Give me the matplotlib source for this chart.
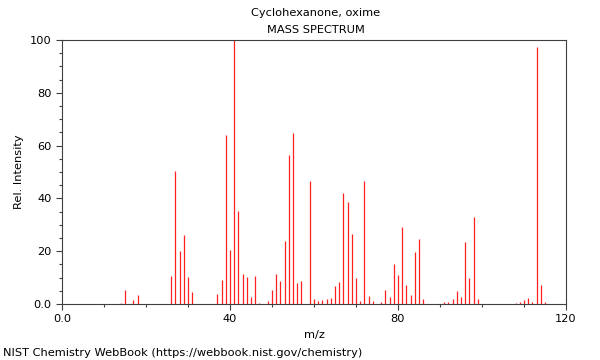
import matplotlib
matplotlib.use("Agg")
import matplotlib.pyplot as plt
from matplotlib.ticker import MultipleLocator, FuncFormatter

# peaks
mz = [14, 15, 17, 18, 26, 27, 28, 29, 30, 31, 37, 38, 39, 40, 41, 42, 43, 44, 45, 46, 47,
      49, 50, 51, 52, 53, 54, 55, 56, 57, 59, 60, 61, 62, 63, 64, 65, 66, 67, 68, 69, 70,
      71, 72, 73, 74, 76, 77, 78, 79, 80, 81, 82, 83, 84, 85, 86, 91, 92, 93, 94, 95, 96,
      97, 98, 99, 108, 109, 110, 111, 112, 113, 114, 115]
intensity = [0.5, 5.3, 1.5, 3.4, 10.7, 50.4, 20.2, 26.1, 10.2, 4.7, 3.7, 9.1, 64.0, 20.5,
             100.0, 35.2, 11.2, 10.1, 2.5, 10.6, 0.5, 1.3, 5.3, 11.2, 8.7, 23.9, 56.4, 64.6,
             8.1, 8.7, 46.7, 1.9, 1.1, 1.4, 2.0, 2.3, 6.8, 8.5, 41.9, 38.8, 26.5, 9.7, 1.1,
             46.6, 3.0, 1.3, 0.8, 5.3, 2.7, 15.2, 11.0, 29.3, 7.2, 3.4, 19.8, 24.6, 1.9, 0.6,
             0.8, 1.7, 4.9, 2.5, 23.5, 9.7, 33.0, 2.0, 0.5, 0.6, 1.5, 2.3, 0.6, 97.2, 7.2, 0.9]

title = "Cyclohexanone, oxime"
subtitle = "MASS SPECTRUM"
footer = "NIST Chemistry WebBook (https://webbook.nist.gov/chemistry)"

plt.rcParams['font.family'] = 'DejaVu Sans'
plt.rcParams['font.size'] = 8.2

fig = plt.figure(figsize=(6, 3.6), dpi=100)
ax = fig.add_axes([0.1033, 0.1556, 0.84, 0.7333])

ax.vlines(mz, 0, intensity, color='#ff2020', linewidth=0.9)

ax.set_xlim(0, 120)
ax.set_ylim(0, 100)
ax.xaxis.set_major_locator(MultipleLocator(40))
ax.xaxis.set_minor_locator(MultipleLocator(10))
ax.yaxis.set_major_locator(MultipleLocator(20))
ax.yaxis.set_minor_locator(MultipleLocator(5))

fmt = FuncFormatter(lambda v, p: "0.0" if v == 0 else "%d" % v)
ax.xaxis.set_major_formatter(fmt)
ax.yaxis.set_major_formatter(fmt)

for s in ax.spines.values():
    s.set_color('#404040')
    s.set_linewidth(0.8)
ax.tick_params(which='major', length=4, width=0.8, color='#404040', labelsize=8.2)
ax.tick_params(which='minor', length=2, width=0.8, color='#404040')

ax.set_xlabel("m/z", fontsize=8.2)
ax.set_ylabel("Rel. Intensity", fontsize=8.2)

fig.text(0.5267, 0.963, title, ha='center', va='center', fontsize=8.2)
fig.text(0.5267, 0.916, subtitle, ha='center', va='center', fontsize=8.2)
fig.text(0.005, 0.019, footer, ha='left', va='center', fontsize=8.2)

fig.savefig("out.png", dpi=100)
